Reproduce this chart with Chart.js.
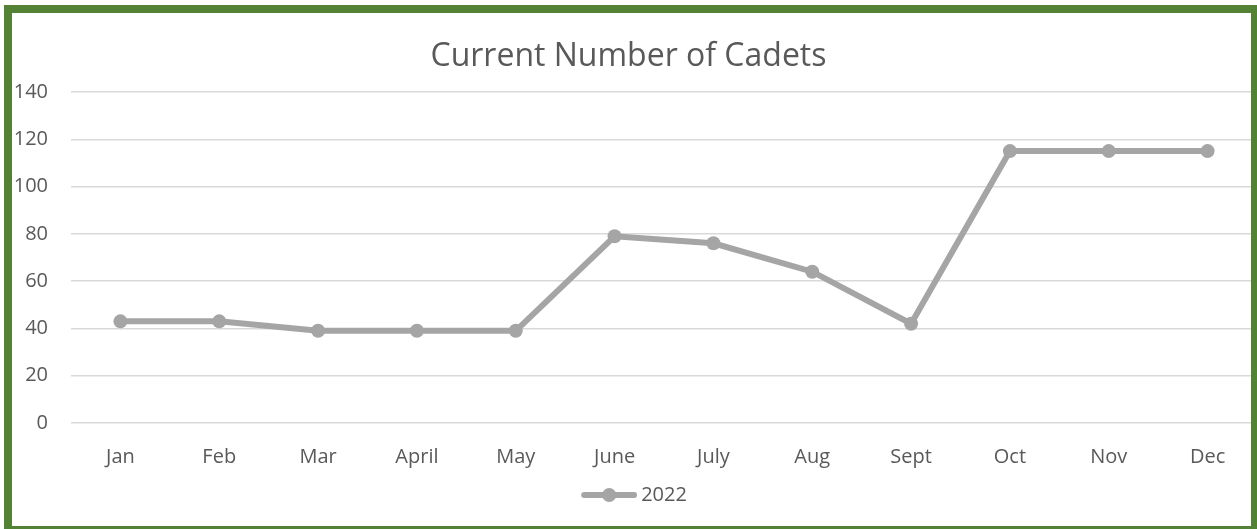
<!DOCTYPE html>
<html>
<head>
<meta charset="utf-8">
<script src="https://cdn.jsdelivr.net/npm/chart.js@4"></script>
<style>
    html, body { margin: 0; padding: 0; background: #ffffff; overflow: hidden; }
    #wrap { position: relative; width: 1257px; height: 529px; }
    #frame {
        position: absolute; left: 4px; top: 5px; width: 1255px; height: 529px;
        box-sizing: border-box; border: 8px solid #548235; pointer-events: none;
    }
</style>
</head>
<body>
<div id="wrap">
    <canvas id="cadetsChart" width="1257" height="529"></canvas>
    <div id="frame"></div>
</div>
<script>
// Data
const months = ['Jan', 'Feb', 'Mar', 'April', 'May', 'June', 'July', 'Aug', 'Sept', 'Oct', 'Nov', 'Dec'];
const cadets2022 = [43, 43, 39, 39, 39, 79, 76, 64, 42, 115, 115, 115];
const seriesLabel = '2022';

const lineGrey = '#A5A5A5';
const textGrey = '#595959';
const fontFamily = '"Open Sans", "Liberation Sans", sans-serif';

// Legend marker: a short line with a dot in the middle, like Excel
// (left part of the image is blank so the marker sits where Excel puts it)
function legendMarker() {
    const c = document.createElement('canvas');
    c.width = 73;
    c.height = 16;
    const g = c.getContext('2d');
    g.strokeStyle = lineGrey;
    g.lineWidth = 6;
    g.lineCap = 'round';
    g.beginPath();
    g.moveTo(20, 8);
    g.lineTo(70, 8);
    g.stroke();
    g.fillStyle = lineGrey;
    g.beginPath();
    g.arc(45, 8, 7, 0, Math.PI * 2);
    g.fill();
    return c;
}
const marker = legendMarker();

const ctx = document.getElementById('cadetsChart').getContext('2d');
new Chart(ctx, {
    type: 'line',
    data: {
        labels: months,
        datasets: [{
            label: seriesLabel,
            data: cadets2022,
            borderColor: lineGrey,
            backgroundColor: lineGrey,
            borderWidth: 6,
            pointRadius: 7,
            pointBorderWidth: 0,
            pointBackgroundColor: lineGrey,
            tension: 0
        }]
    },
    options: {
        responsive: false,
        animation: false,
        layout: {
            autoPadding: false,
            padding: { top: 0, left: 0, right: 0, bottom: 14 }
        },
        plugins: {
            title: {
                display: true,
                text: 'Current Number of Cadets',
                color: textGrey,
                font: { family: fontFamily, size: 32, weight: 'normal', lineHeight: 1.2 },
                padding: { top: 38, bottom: 15.6 }
            },
            legend: {
                display: true,
                position: 'bottom',
                labels: {
                    color: textGrey,
                    font: { family: fontFamily, size: 20 },
                    padding: 10,
                    usePointStyle: true,
                    pointStyleWidth: 61,
                    generateLabels: chart => chart.data.datasets.map((ds, i) => ({
                        text: ds.label,
                        pointStyle: marker,
                        fillStyle: lineGrey,
                        strokeStyle: lineGrey,
                        lineWidth: 0,
                        fontColor: textGrey,
                        datasetIndex: i
                    }))
                }
            },
            tooltip: { enabled: false }
        },
        scales: {
            x: {
                offset: true,
                grid: { display: false, drawTicks: false },
                border: { display: false },
                ticks: {
                    color: textGrey,
                    font: { family: fontFamily, size: 20 },
                    padding: 22,
                    maxRotation: 0
                },
                afterFit: scale => { scale.height = 52; }
            },
            y: {
                min: 0,
                max: 140,
                grid: { color: '#D9D9D9', lineWidth: 1.5, drawTicks: false },
                border: { display: false },
                ticks: {
                    stepSize: 20,
                    color: textGrey,
                    font: { family: fontFamily, size: 20 },
                    padding: 23
                },
                afterFit: scale => { scale.width = 71; }
            }
        }
    }
});
</script>
</body>
</html>
